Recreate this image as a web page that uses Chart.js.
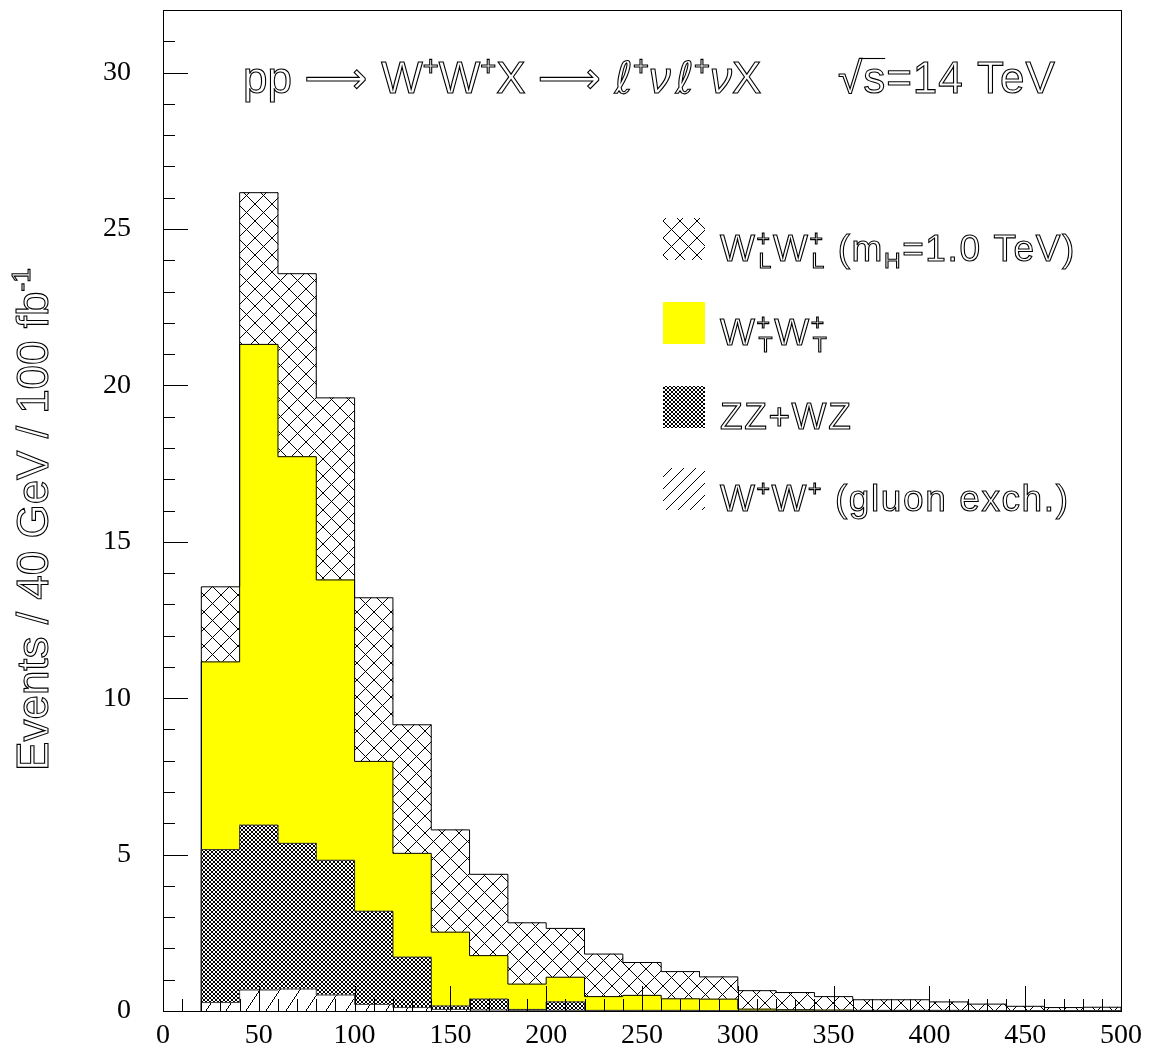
<!DOCTYPE html>
<html><head><meta charset="utf-8">
<script src="https://cdn.jsdelivr.net/npm/chart.js@4.4.1/dist/chart.umd.min.js"></script>
<style>html,body{margin:0;padding:0;background:#fff;}</style>
</head><body>
<canvas id="c" width="1151" height="1053"></canvas>
<script>
// ---- data (events per bin) ----
const binLowEdges = [20,40,60,80,100,120,140,160,180,200,220,240,260,280,300,320,340,360,380,400,420,440,460,480];
const binWidth = 20;
const gluonExch = [0.27,0.67,0.70,0.51,0.21,0.11,0.05,0.03,0.02,0.02,0.01,0.01,0.01,0.01,0,0,0,0,0,0,0,0,0,0];
const zzWz      = [4.89,5.27,4.66,4.31,2.98,1.61,0.11,0.35,0.03,0.27,0.01,0.01,0.01,0,0,0,0,0,0,0,0,0,0,0];
const wTwT      = [6.00,15.37,12.36,8.96,4.79,3.32,2.36,1.39,0.81,0.79,0.44,0.48,0.37,0.37,0.06,0.04,0.03,0.02,0.02,0.02,0.01,0.01,0.01,0.01];
const wLwL      = [2.40,4.85,5.85,5.82,5.23,4.11,3.27,2.60,1.96,1.56,1.36,1.05,0.87,0.71,0.59,0.55,0.43,0.34,0.34,0.27,0.21,0.14,0.10,0.11];
const xTickValues = [0,50,100,150,200,250,300,350,400,450,500];
const yTickValues = [0,5,10,15,20,25,30];

const SANS = "'Liberation Sans Narrow','Liberation Sans',Arial,sans-serif";
const SERIF = "'Liberation Serif','Times New Roman',serif";
const SYM = "'DejaVu Sans',sans-serif";

const canvas = document.getElementById('c');
const ctx = canvas.getContext('2d');

function crossPattern(s) {
  const c = document.createElement('canvas'); c.width = s; c.height = s;
  const g = c.getContext('2d');
  g.fillStyle = '#fff'; g.fillRect(0,0,s,s);
  g.fillStyle = '#000';
  for (let i = 0; i < s; i++) { g.fillRect(i,i,1,1); g.fillRect(s-1-i,i,1,1); }
  return ctx.createPattern(c, 'repeat');
}
function hatchPattern(w, h) {
  const c = document.createElement('canvas'); c.width = w; c.height = h;
  const g = c.getContext('2d');
  g.fillStyle = '#fff'; g.fillRect(0,0,w,h);
  g.fillStyle = '#000';
  for (let y = 0; y < h; y++) { const x = Math.floor((h-1-y)*w/h); g.fillRect(x,y,1,1); }
  return ctx.createPattern(c, 'repeat');
}
const patWL = crossPattern(17);
const patZZ = crossPattern(4);
const patGl = hatchPattern(20, 30);
const patGlKey = hatchPattern(12, 12);
const YELLOW = '#ffff00';

const toBars = arr => arr.map((v,i) => ({x: binLowEdges[i] + binWidth/2, y: v}));
// cumulative outlines (step lines through right bin edges)
const series = [gluonExch, zzWz, wTwT, wLwL];
const cum = [];
series.forEach((s, k) => cum.push(s.map((v,i) => v + (k ? cum[k-1][i] : 0))));
const outline = arr => {
  const pts = [{x: binLowEdges[0], y: 0}];
  arr.forEach((v,i) => pts.push({x: binLowEdges[i] + binWidth, y: v}));
  pts.push({x: binLowEdges[arr.length-1] + binWidth, y: 0});
  return pts;
};

const barCommon = {type:'bar', barPercentage:1, categoryPercentage:1, borderWidth:0, stack:'main', order:2};
const lineCommon = {type:'line', stepped:'after', pointRadius:0, borderWidth:1, borderColor:'#000', fill:false, order:0};

const datasets = [
  {...barCommon, label:'W+W+ (gluon exch.)', data: toBars(gluonExch), backgroundColor: patGl},
  {...barCommon, label:'ZZ+WZ', data: toBars(zzWz), backgroundColor: patZZ},
  {...barCommon, label:'W+T W+T', data: toBars(wTwT), backgroundColor: YELLOW},
  {...barCommon, label:'W+L W+L', data: toBars(wLwL), backgroundColor: patWL},
  {...lineCommon, stack:'o0', data: outline(cum[0]), borderColor:'#444'},
  {...lineCommon, stack:'o1', data: outline(cum[1]), borderColor:'#333'},
  {...lineCommon, stack:'o2', data: outline(cum[2])},
  {...lineCommon, stack:'o3', data: outline(cum[3])},
];

function segFont(s, size) {
  const small = s.sup || s.sub;
  const fs = small ? size * (s.scale || 0.62) : size;
  return (s.italic ? 'italic ' : '') + fs + 'px ' + (s.family || SANS);
}
function drawRich(g, x, y, segs, size, spacing, measureOnly) {
  const x0 = x;
  g.letterSpacing = spacing + 'px';
  for (const s of segs) {
    g.font = segFont(s, size);
    const dy = s.sup ? -size * 0.40 : (s.sub ? size * 0.18 : 0);
    const tw = g.measureText(s.t).width;
    if (!measureOnly) {
      if (s.fill) g.fillText(s.t, x + (s.dx || 0), y + dy);
      else g.strokeText(s.t, x + (s.dx || 0), y + dy);
      if (s.over) {
        const oy = Math.round(y - size * 0.80) + 0.5;
        g.beginPath(); g.moveTo(x - 2, oy); g.lineTo(x + tw - spacing, oy); g.stroke();
      }
    }
    if (!s.noAdvance) x += tw + (s.dx || 0) + (s.gap || 0);
  }
  g.letterSpacing = '0px';
  return x - x0;
}

const decor = {
  id: 'decor',
  afterDraw(chart) {
    const g = chart.ctx;
    const a = chart.chartArea;
    const xs = chart.scales.x, ys = chart.scales.y;
    g.save();
    g.strokeStyle = '#000'; g.lineWidth = 1;
    // ticks
    g.beginPath();
    for (let v = 0; v <= 31; v++) {
      const py = Math.round(ys.getPixelForValue(v)) + 0.5;
      const len = v % 5 === 0 ? 25 : 12;
      g.moveTo(a.left, py); g.lineTo(a.left + len, py);
    }
    for (let v = 0; v <= 500; v += 10) {
      const px = Math.round(xs.getPixelForValue(v)) + 0.5;
      const len = v % 50 === 0 ? 25 : 12;
      g.moveTo(px, a.bottom); g.lineTo(px, a.bottom - len);
    }
    g.stroke();
    // frame
    g.strokeRect(Math.round(a.left)+0.5, Math.round(a.top)+0.5, Math.round(a.right-a.left), Math.round(a.bottom-a.top));

    // texts (outlined glyphs like the original)
    g.strokeStyle = '#000'; g.fillStyle = '#000'; g.lineWidth = 1.1;
    g.textBaseline = 'alphabetic'; g.textAlign = 'left';
    drawRich(g, 243, 93, [
      {t:'pp '},{t:'⟶ ', family:SYM},{t:'W'},{t:'+',sup:true},{t:'W'},{t:'+',sup:true},
      {t:'X '},{t:'⟶ ', family:SYM},{t:'ℓ', family:SYM, italic:true},{t:'+',sup:true},{t:'ν', italic:true, gap:5},
      {t:'ℓ', family:SYM, italic:true},{t:'+',sup:true},{t:'ν', italic:true},{t:'X'}
    ], 44, 0);
    drawRich(g, 838, 93, [{t:'√'},{t:'s', over:true},{t:'=14 TeV'}], 44, 1);

    // legend
    const sw = [
      {y:218, fill:patWL, segs:[{t:'W'},{t:'+',sup:true,noAdvance:true},{t:'L',sub:true,dx:2},{t:'W'},{t:'+',sup:true,noAdvance:true},{t:'L',sub:true,dx:2},{t:' (m'},{t:'H',sub:true},{t:'=1.0 TeV)'}]},
      {y:302, fill:YELLOW, segs:[{t:'W'},{t:'+',sup:true,noAdvance:true},{t:'T',sub:true,dx:2},{t:'W'},{t:'+',sup:true,noAdvance:true},{t:'T',sub:true,dx:2}]},
      {y:386, fill:patZZ, segs:[{t:'ZZ+WZ'}]},
      {y:468, fill:patGlKey, segs:[{t:'W'},{t:'+',sup:true},{t:'W'},{t:'+',sup:true},{t:' (gluon exch.)'}]},
    ];
    for (const r of sw) {
      g.fillStyle = r.fill; g.fillRect(663, r.y, 42, 42);
      g.fillStyle = '#000';
      drawRich(g, 720, r.y + 43, r.segs, 37, 1.6);
    }

    // y-axis title, rotated
    const ySegs = [{t:'Events / 40 GeV / 100 fb'},{t:'-1',sup:true,scale:0.6}];
    const w = drawRich(g, 0, 0, ySegs, 44, 0, true);
    g.translate(48, (a.top + a.bottom) / 2 + 9);
    g.rotate(-Math.PI / 2);
    drawRich(g, -w / 2, 0, ySegs, 44, 0);
    g.restore();
  }
};

new Chart(ctx, {
  type: 'bar',
  data: { datasets },
  options: {
    responsive: false, animation: false, devicePixelRatio: 1,
    layout: { padding: { top: 10, right: 30, left: 0, bottom: 0 } },
    plugins: { legend: { display: false }, tooltip: { enabled: false } },
    scales: {
      x: {
        type: 'linear', min: 0, max: 500, offset: false,
        grid: { display: false, drawTicks: false }, border: { display: false },
        afterBuildTicks: s => { s.ticks = xTickValues.map(v => ({value: v})); },
        ticks: { autoSkip: false, maxRotation: 0, color: '#000', padding: 8, font: { family: SERIF, size: 28 } },
        afterFit: s => { s.height = 42; s.paddingLeft = 0; s.paddingRight = 0; }
      },
      y: {
        stacked: true, min: 0, max: 32,
        grid: { display: false, drawTicks: false }, border: { display: false },
        afterBuildTicks: s => { s.ticks = yTickValues.map(v => ({value: v})); },
        ticks: { color: '#000', padding: 32, font: { family: SERIF, size: 28 } },
        title: { display: false },
        afterFit: s => { s.width = 163; s.paddingTop = 0; s.paddingBottom = 0; }
      }
    }
  },
  plugins: [decor]
});
</script>
</body></html>
